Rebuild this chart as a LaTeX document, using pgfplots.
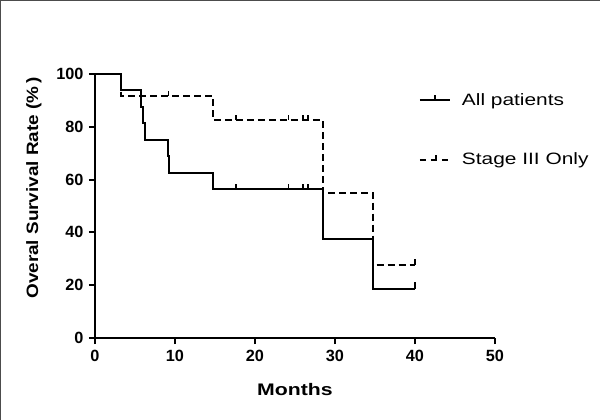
\documentclass[border=0pt]{standalone}
\usepackage{pgfplots}
\pgfplotsset{compat=1.18}
\usepackage{fontspec}
\setmainfont{Liberation Sans}
\newfontfamily\labfont[FakeStretch=1.15]{Liberation Sans}
\newfontfamily\xlabfont[FakeStretch=1.27]{Liberation Sans}
\newfontfamily\legfont[FakeStretch=1.27]{Liberation Sans}
\pgfdeclareplotmark{cens}{\pgfpathmoveto{\pgfpoint{0bp}{0bp}}\pgfpathlineto{\pgfpoint{0bp}{5bp}}\pgfusepathqstroke}
\pgfdeclareplotmark{censend}{\pgfpathmoveto{\pgfpoint{0bp}{0bp}}\pgfpathlineto{\pgfpoint{0bp}{6.5bp}}\pgfusepathqstroke}
\pgfplotsset{
  solidleg/.style={legend image code/.code={\draw[black, line width=2bp, solid] (0bp,0bp) -- (30bp,0bp); \draw[black, line width=2bp, solid] (15bp,0bp) -- (15bp,5bp);}},
  dashleg/.style={legend image code/.code={\draw[black, line width=2bp, dash pattern=on 6bp off 5bp] (0bp,0bp) -- (30bp,0bp); \draw[black, line width=2bp, solid] (16bp,0bp) -- (16bp,5bp);}},
}
\begin{document}
\begin{tikzpicture}
\useasboundingbox (-95bp,-82bp) rectangle (505bp,338bp);
\draw[color=black!70, line width=1.2bp] (-94.4bp,-82bp) -- (-94.4bp,337.4bp) -- (505bp,337.4bp);
\begin{axis}[
  at={(0,0)}, anchor=south west,
  scale only axis, width=400bp, height=264bp,
  xmin=0, xmax=50, ymin=0, ymax=100,
  axis x line*=bottom, axis y line*=left,
  axis line style={line width=2bp, -},
  xtick={0,10,...,50}, ytick={0,20,...,100},
  tick style={line width=2bp, black},
  tick align=outside, major tick length=6bp,
  /pgf/number format/assume math mode=true,
  ticklabel style={font=\bfseries\fontsize{16.3}{18}\selectfont},
  xticklabel style={yshift=-3bp},
  yticklabel style={xshift=-2bp},
  xlabel={Months}, ylabel={Overal Survival Rate (\%\,)},
  label style={font=\labfont\bfseries\fontsize{16.5}{19}\selectfont},
  xlabel style={font=\xlabfont\bfseries\fontsize{16.8}{19}\selectfont, at={(axis description cs:0.5,-0.194)}, anchor=center},
  ylabel style={at={(axis description cs:-0.1525,0.568)}, anchor=center},
  legend style={draw=none, fill=none, at={(axis cs:40.1,78.8)}, anchor=west,
    font=\legfont\fontsize{16.5}{19}\selectfont, row sep=42bp},
  legend cell align=left,
  clip=false,
]
\addplot[const plot, black, line width=2bp, mark=none, solidleg]
  coordinates {(0,100) (3.3,93.75) (5.75,87.5) (6.0,81.25) (6.2,75) (9.1,68.75) (9.3,62.5) (14.7,56.25) (28.5,37.5) (34.8,18.75) (40,18.75)};
\addlegendentry{\hspace*{9bp}All patients}
\addplot[const plot, black, line width=2bp, dash pattern=on 7bp off 4bp, mark=none, dashleg]
  coordinates {(0,100) (3.3,91.67) (14.7,82.5) (28.5,55) (34.8,27.5) (40,27.5)};
\addlegendentry{\hspace*{9bp}Stage III Only}
\addplot[only marks, mark=cens, black, line width=1.5bp, forget plot]
  coordinates {(17.6,56.25) (24.2,56.25) (26,56.25) (26.6,56.25)};
\addplot[only marks, mark=censend, black, line width=2bp, forget plot]
  coordinates {(40,18.75)};
\addplot[only marks, mark=cens, black, line width=1.5bp, forget plot]
  coordinates {(9.2,91.67) (17.6,82.5) (24.2,82.5) (26,82.5) (26.6,82.5)};
\addplot[only marks, mark=censend, black, line width=2bp, forget plot]
  coordinates {(40,27.5)};
\end{axis}
\end{tikzpicture}
\end{document}
